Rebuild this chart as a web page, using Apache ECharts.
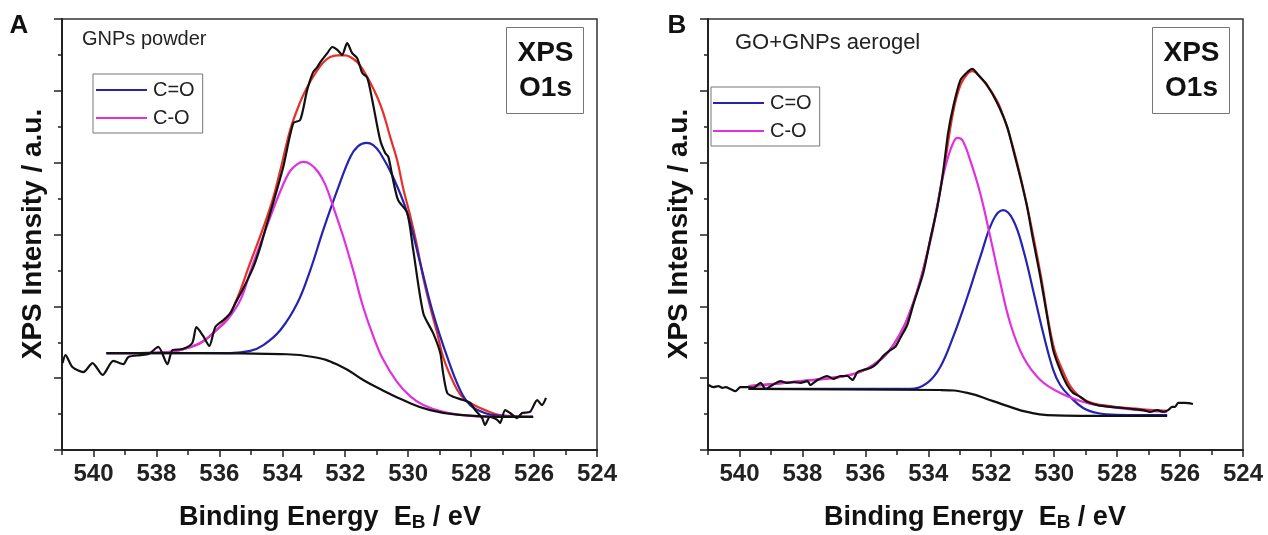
<!DOCTYPE html>
<html><head><meta charset="utf-8">
<script src="https://cdn.jsdelivr.net/npm/echarts@6/dist/echarts.min.js"></script>
<style>html,body{margin:0;padding:0;background:#fff}#c{width:1268px;height:535px}</style>
</head><body><div id="c"></div>
<script>
// ---------- DATA (binding energy eV, intensity a.u.) ----------
const xMajorTicks = [524,526,528,530,532,534,536,538,540];
const xMinorTicks = [525,527,529,531,533,535,537,539,541];
const seriesNames = ['C=O','C-O'];
const panelTitles = ['GNPs powder','GO+GNPs aerogel'];

// Panel A : GNPs powder
const aRaw = [[540.98,2.42],[540.89,2.64],[540.67,2.31],[540.32,2.17],[540.03,2.42],[539.71,2.09],[539.37,2.48],[539.05,2.39],[538.89,2.59],[538.51,2.64],[538.25,2.67],[537.94,2.87],[537.65,2.39],[537.49,2.78],[537.17,2.81],[536.86,2.98],[536.73,3.42],[536.51,3.17],[536.32,2.90],[536.13,3.42],[535.87,3.62],[535.65,3.81],[535.49,4.09],[535.27,4.45],[535.11,4.73],[534.92,5.09],[534.70,5.65],[534.48,6.32],[534.29,6.88],[533.97,7.88],[533.65,9.10],[533.43,9.19],[533.21,10.02],[533.02,10.52],[532.89,10.66],[532.79,10.80],[532.57,11.05],[532.41,11.22],[532.25,11.14],[532.10,11.00],[531.94,11.33],[531.78,11.05],[531.62,10.91],[531.46,10.50],[531.30,10.36],[531.14,9.74],[530.89,8.63],[530.73,8.27],[530.63,8.16],[530.48,7.52],[530.32,6.96],[530.03,6.60],[529.84,5.57],[529.52,3.81],[529.21,3.26],[528.98,2.70],[528.89,2.14],[528.76,1.59],[528.57,1.48],[528.25,1.39],[528.03,1.31],[527.87,1.11],[527.65,0.89],[527.56,0.70],[527.40,0.92],[527.17,0.84],[527.08,0.75],[526.92,1.11],[526.76,1.03],[526.54,0.89],[526.38,1.03],[526.13,1.06],[525.90,1.39],[525.75,1.25],[525.62,1.45]];
const aEnvelope = [[539.59,2.70],[538.51,2.70],[537.56,2.73],[537.02,2.84],[536.60,2.98],[536.19,3.26],[535.65,3.81],[535.02,5.21],[534.38,6.76],[534.06,7.80],[533.75,8.91],[533.43,9.69],[533.21,10.10],[532.95,10.49],[532.70,10.79],[532.48,10.94],[532.25,10.99],[532.00,10.99],[531.84,10.94],[531.62,10.80],[531.43,10.58],[531.21,10.24],[530.98,9.82],[530.79,9.38],[530.57,8.71],[530.35,8.07],[530.16,7.29],[529.94,6.54],[529.71,5.65],[529.52,4.79],[529.30,3.98],[529.08,3.26],[528.89,2.59],[528.67,2.09],[528.44,1.67],[528.25,1.45],[528.03,1.31],[527.56,1.11],[527.08,0.97],[526.03,0.92]];
const aCO_double = [[539.59,2.70],[536.60,2.70],[535.65,2.70],[535.02,2.76],[534.60,2.92],[534.06,3.34],[533.52,4.09],[533.11,5.01],[532.70,6.12],[532.25,7.24],[531.84,8.16],[531.59,8.46],[531.33,8.55],[531.11,8.49],[530.89,8.27],[530.48,7.60],[530.03,6.60],[529.62,5.21],[529.21,3.81],[528.76,2.59],[528.35,1.67],[528.03,1.25],[527.56,1.03],[527.08,0.95],[526.03,0.92]];
const aCO_single = [[539.59,2.70],[538.51,2.70],[537.56,2.73],[537.02,2.84],[536.60,2.98],[536.19,3.26],[535.75,3.62],[535.33,4.18],[535.02,4.96],[534.70,5.74],[534.38,6.49],[534.06,7.21],[533.75,7.77],[533.52,7.96],[533.33,8.02],[533.11,7.96],[532.86,7.74],[532.63,7.38],[532.38,6.77],[532.06,5.93],[531.75,5.01],[531.43,3.98],[531.11,3.17],[530.79,2.51],[530.35,1.89],[529.94,1.50],[529.52,1.25],[528.89,1.06],[528.03,0.95],[527.08,0.92],[526.03,0.92]];
const aBackground = [[539.59,2.70],[536.60,2.70],[534.06,2.67],[533.02,2.59],[532.16,2.34],[531.43,1.95],[530.89,1.70],[530.16,1.39],[529.30,1.11],[528.25,0.97],[527.08,0.92],[526.03,0.92]];

// Panel B : GO+GNPs aerogel
const bRaw = [[540.98,1.81],[540.83,1.75],[540.67,1.78],[540.54,1.73],[540.44,1.75],[540.29,1.70],[540.13,1.64],[539.97,1.75],[539.75,1.75],[539.56,1.73],[539.33,1.87],[539.17,1.70],[538.95,1.81],[538.70,1.92],[538.48,1.87],[538.29,1.89],[538.06,1.87],[537.84,1.92],[537.75,1.81],[537.52,1.95],[537.21,2.06],[537.02,1.98],[536.79,2.06],[536.57,2.06],[536.41,1.95],[536.25,2.17],[536.06,2.23],[535.84,2.28],[535.62,2.42],[535.43,2.62],[535.21,2.78],[535.05,2.87],[534.89,3.12],[534.67,3.48],[534.48,4.04],[534.16,4.93],[533.94,5.85],[533.71,6.77],[533.52,7.80],[533.37,8.83],[533.21,9.55],[532.98,10.30],[532.76,10.52],[532.60,10.61],[532.41,10.44],[532.13,10.16],[531.81,9.66],[531.49,8.99],[531.30,8.35],[531.08,7.60],[530.86,6.77],[530.67,5.85],[530.44,4.82],[530.22,3.70],[530.03,2.78],[529.81,2.23],[529.59,1.81],[529.40,1.59],[529.17,1.48],[528.95,1.34],[528.63,1.25],[528.22,1.20],[527.81,1.17],[527.49,1.14],[527.17,1.11],[526.95,1.06],[526.73,1.11],[526.54,1.06],[526.38,1.11],[526.25,1.20],[526.16,1.20],[526.06,1.31],[525.84,1.31],[525.59,1.28]];
const bEnvelope = [[539.71,1.78],[538.06,1.92],[536.48,2.09],[535.75,2.37],[535.11,2.92],[534.48,4.09],[533.94,5.85],[533.52,7.74],[533.21,9.41],[532.98,10.16],[532.76,10.47],[532.60,10.55],[532.41,10.44],[532.03,10.02],[531.71,9.52],[531.30,8.41],[530.86,6.79],[530.44,4.93],[530.03,2.92],[529.71,2.17],[529.40,1.67],[528.95,1.36],[528.22,1.22],[527.27,1.14],[526.41,1.09]];
const bCO_double = [[539.71,1.70],[534.89,1.70],[534.57,1.70],[534.03,1.87],[533.62,2.31],[533.21,3.15],[532.76,4.26],[532.35,5.37],[531.94,6.40],[531.62,6.68],[531.30,6.40],[530.98,5.57],[530.67,4.45],[530.35,3.26],[530.03,2.23],[529.81,1.81],[529.49,1.48],[529.08,1.17],[528.63,1.03],[528.00,0.98],[526.41,0.97]];
const bCO_single = [[539.71,1.78],[538.06,1.92],[536.48,2.09],[535.75,2.37],[535.11,2.92],[534.48,4.09],[533.94,5.79],[533.71,6.82],[533.52,7.66],[533.37,8.16],[533.21,8.55],[533.08,8.69],[532.92,8.63],[532.67,8.07],[532.35,7.15],[532.03,5.93],[531.71,4.65],[531.40,3.54],[530.98,2.59],[530.44,1.95],[529.81,1.59],[528.95,1.31],[528.22,1.20],[527.27,1.11],[526.41,1.06]];
const bBackground = [[539.71,1.70],[533.62,1.67],[532.76,1.59],[531.94,1.36],[531.40,1.20],[530.86,1.06],[530.22,0.97],[529.17,0.95],[526.41,0.95]];

// ---------- CHART ----------
const FONT = '"Liberation Sans", Arial, sans-serif';
const chart = echarts.init(document.getElementById('c'), null, {renderer:'canvas'});
const C_RAW='#111111', C_ENV='#e8302a', C_DBL='#2424b0', C_SGL='#e030e0';
const LW = 2.2;

const grids = [
  {left:62, top:19, width:535, height:431},
  {left:708, top:19, width:535, height:431}
].map(g => Object.assign(g, {show:true, borderColor:'#333', borderWidth:1.5, containLabel:false}));

function majorX(gi){
  return {type:'value', gridIndex:gi, min:524, max:541, inverse:true, interval:2,
    axisLine:{show:true, lineStyle:{color:'#222', width:2}},
    axisTick:{show:true, inside:false, length:7, lineStyle:{color:'#222', width:1.5}, customValues:xMajorTicks},
    axisLabel:{show:true, margin:12, color:'#222', fontFamily:FONT, fontWeight:'bold', fontSize:24, customValues:xMajorTicks},
    splitLine:{show:false}};
}
function minorX(gi){
  return {type:'value', gridIndex:gi, min:524, max:541, inverse:true, interval:1, position:'bottom',
    axisLine:{show:false},
    axisTick:{show:true, inside:false, length:5, lineStyle:{color:'#222', width:1.5}, customValues:xMinorTicks},
    axisLabel:{show:false}, splitLine:{show:false}};
}
function yAx(gi){
  return {type:'value', gridIndex:gi, min:0, max:12, interval:2,
    axisLine:{show:true, lineStyle:{color:'#222', width:2}},
    axisTick:{show:true, length:8, lineStyle:{color:'#222', width:1.5}},
    minorTick:{show:true, splitNumber:2, length:4, lineStyle:{color:'#222', width:1.5}},
    axisLabel:{show:false}, splitLine:{show:false}};
}
function ser(name, data, color, xi, yi, z, smooth){
  return {type:'line', name:name, data:data, xAxisIndex:xi, yAxisIndex:yi, color:color,
    symbol:'none', showSymbol:false, smooth:smooth, z:z, animation:false,
    lineStyle:{color:color, width:LW}};
}
function legend(left, top, pad){
  return {show:true, orient:'vertical', left:left, top:top, data:seriesNames, icon:'rect',
    itemWidth:51, itemHeight:2, itemGap:8, padding:pad, borderColor:'#777', borderWidth:1,
    backgroundColor:'#fff', selectedMode:false,
    textStyle:{fontFamily:FONT, fontSize:20, lineHeight:20, color:'#222', padding:[0,0,0,1]}};
}
function xpsBox(x){
  return {type:'group', left:x, top:27, children:[
    {type:'rect', shape:{x:0,y:0,width:77,height:86}, style:{fill:'#fff', stroke:'#777', lineWidth:1}},
    {type:'text', x:39, y:43, style:{text:'XPS\nO1s', fill:'#111', font:'bold 28px '+FONT, textAlign:'center', textVerticalAlign:'middle', lineHeight:35}}
  ]};
}
function xTitle(cx){
  return {type:'text', x:cx, y:518, style:{text:'Binding Energy  E{s|B} / eV', fill:'#111', font:'bold 27px '+FONT,
    textAlign:'center', textVerticalAlign:'middle',
    rich:{s:{fontSize:19, fontWeight:'bold', fontFamily:FONT, fill:'#111', padding:[10,0,0,0]}}}};
}
function yTitle(cx){
  return {type:'text', x:cx, y:234, rotation:Math.PI/2, style:{text:'XPS Intensity / a.u.', fill:'#111', font:'bold 28px '+FONT,
    textAlign:'center', textVerticalAlign:'middle'}};
}

chart.setOption({
  backgroundColor:'#fff',
  animation:false,
  grid: grids,
  xAxis:[majorX(0), minorX(0), majorX(1), minorX(1)],
  yAxis:[yAx(0), yAx(1)],
  legend:[legend(93, 74, [6,8,5,3]), legend(711, 87, [6,8,5,2])],
  series:[
    ser('Envelope A', aEnvelope, C_ENV, 0, 0, 2, 0.4),
    ser('C=O', aCO_double, C_DBL, 0, 0, 3, 0.4),
    ser('C-O', aCO_single, C_SGL, 0, 0, 4, 0.4),
    ser('Background A', aBackground, C_RAW, 0, 0, 5, 0.5),
    ser('Raw A', aRaw, C_RAW, 0, 0, 6, 0.25),
    ser('Envelope B', bEnvelope, C_ENV, 2, 1, 2, 0.4),
    ser('C=O', bCO_double, C_DBL, 2, 1, 3, 0.4),
    ser('C-O', bCO_single, C_SGL, 2, 1, 4, 0.4),
    ser('Background B', bBackground, C_RAW, 2, 1, 5, 0.5),
    ser('Raw B', bRaw, C_RAW, 2, 1, 6, 0.25)
  ],
  graphic:[
    {type:'text', x:19, y:26, style:{text:'A', fill:'#111', font:'bold 26px '+FONT, textAlign:'center', textVerticalAlign:'middle'}},
    {type:'text', x:677, y:26, style:{text:'B', fill:'#111', font:'bold 26px '+FONT, textAlign:'center', textVerticalAlign:'middle'}},
    {type:'text', x:82, y:39, style:{text:panelTitles[0], fill:'#222', font:'20px '+FONT, textVerticalAlign:'middle'}},
    {type:'text', x:735, y:43, style:{text:panelTitles[1], fill:'#222', font:'22px '+FONT, textVerticalAlign:'middle'}},
    xpsBox(506), xpsBox(1152),
    xTitle(330), xTitle(975),
    yTitle(33), yTitle(679)
  ]
});
</script></body></html>
